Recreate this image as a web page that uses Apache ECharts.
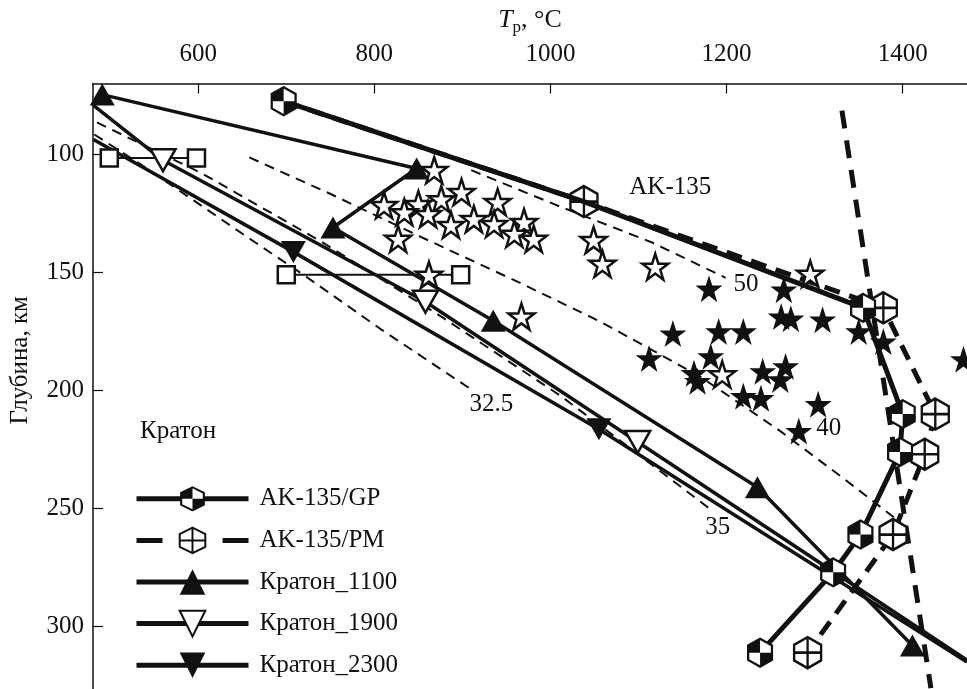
<!DOCTYPE html>
<html><head><meta charset="utf-8">
<script src="https://cdn.jsdelivr.net/npm/echarts/dist/echarts.min.js"></script>
<style>html,body{margin:0;padding:0;background:#fff}#c{width:967px;height:689px}</style>
</head><body><div id="c"></div>
<script>
// ---------- data (T in °C, depth in km) ----------
const xTicks = [600, 800, 1000, 1200, 1400];
const yTicks = [100, 150, 200, 250, 300];

const akGP = [[697, 77.5], [1038, 120], [1355, 165], [1400, 210], [1397, 226], [1352, 261], [1321, 277], [1238, 311]];
const akPM = [[697, 77.5], [1038, 120], [1378, 165], [1437, 210], [1425, 227], [1389, 261], [1292, 311]];

const kraton1100 = [[491, 74.7], [848, 106], [753, 131], [935, 170.5], [1235, 241], [1411, 308]];
const kraton1900 = [[481, 79.3], [560, 102.5], [858, 162.4], [1099, 221.8], [1473, 314.2]];
const kraton2300 = [[481, 93.7], [708, 141.3], [1055, 216.4], [1473, 315]];

const squares100 = [[499, 101.5], [598, 101.5]];
const squares150 = [[700, 151], [898, 151]];

const adiabat = [[1331, 81.5], [1432, 326]];

const geo32_5 = [[482, 91.6], [536, 104.6], [596, 119.8], [652, 134.1], [721, 151.4], [808, 174.2], [913, 200.3]];
const geo35 = [[485, 86.5], [604, 108], [740, 137], [876, 168.7], [1012, 202.4], [1102, 227.7], [1184, 251]];
const geo40 = [[658, 101.3], [751, 116.9], [853, 135], [963, 154], [1057, 170.9], [1170, 194.1], [1261, 217.2], [1332, 237], [1391, 254]];
const geo50 = [[910, 106.7], [1012, 122.3], [1114, 137.1], [1199, 152.3]];

const openStars = [[868, 106.7], [899, 116], [876, 119], [850, 121.1], [811, 121.5], [834, 124.5], [861, 125.3], [887, 129.9],
  [940, 120.2], [913, 127.4], [936, 129.5], [970, 128.7], [959, 133.7], [981, 135.8], [827, 135.8], [1049, 136.3],
  [1059, 146.4], [862, 151], [967, 168.7], [1119, 147.6], [1295, 150.6], [1195, 193.2]];
const filledStars = [[1180, 156.9], [1265, 157.3], [1262, 168.7], [1273, 169.6], [1309, 170], [1350, 175], [1378, 179.3],
  [1139, 175.9], [1191, 175], [1219, 175], [1112, 186.4], [1182, 185.6], [1163, 192.7], [1167, 196.1], [1241, 191.9],
  [1267, 189.8], [1261, 195.3], [1219, 202.4], [1239, 203.3], [1304, 205.8], [1282, 217.2], [1469, 186.8]];

const textLabels = [[1136, 114, 'AK-135'], [1222, 155, '50'], [1316, 216, '40'], [1190, 258, '35'], [933, 206, '32.5']];

const legendNames = ['AK-135/GP', 'AK-135/PM', 'Кратон_1100', 'Кратон_1900', 'Кратон_2300'];

// ---------- symbols & styles ----------
const FONT = '"Liberation Serif", "Times New Roman", serif';
const INK = '#111';
const STAR = 'path://M50,0 L61.8,35.4 L99,35.4 L69,57.3 L80.3,92.7 L50,70.8 L19.7,92.7 L31,57.3 L1,35.4 L38.2,35.4 Z';
const TRI_DOWN = 'path://M0,0 L100,0 L50,87 Z';
const HEX_PM = 'path://M50,0 L93.3,25 L93.3,75 L50,100 L6.7,75 L6.7,25 Z M50,0 L50,100 M6.7,50 L93.3,50';
const gpSvg = '<svg xmlns="http://www.w3.org/2000/svg" width="52" height="60" viewBox="0 0 26 30">' +
  '<polygon points="13,1.5 24.5,8 24.5,22 13,28.5 1.5,22 1.5,8" fill="#fff"/>' +
  '<polygon points="13,1.5 13,15 1.5,15 1.5,8" fill="#111"/>' +
  '<polygon points="13,15 24.5,15 24.5,22 13,28.5" fill="#111"/>' +
  '<polygon points="13,1.5 24.5,8 24.5,22 13,28.5 1.5,22 1.5,8" fill="none" stroke="#111" stroke-width="2.2"/></svg>';
const GP = 'image://data:image/svg+xml;charset=utf-8,' + encodeURIComponent(gpSvg);

function noSym(arr, idx) { return arr.map((p, i) => idx.includes(i) ? { value: p, symbol: 'none' } : p); }

const chart = echarts.init(document.getElementById('c'), null, { renderer: 'canvas' });
const dashedThin = { color: INK, width: 2, type: [10, 7] };

chart.setOption({
  animation: false,
  backgroundColor: '#fff',
  title: { text: 'Кратон', left: 140, top: 419, padding: 0, textStyle: { fontSize: 25, fontWeight: 'normal', fontFamily: FONT, color: INK } },
  legend: {
    data: legendNames.map(n => n === 'AK-135/PM' ? { name: n, lineStyle: { type: [26, 60, 26] } } : n),
    orient: 'vertical', left: 129, top: 481, itemWidth: 112, itemHeight: 32, itemGap: 15,
    selectedMode: false, lineStyle: { width: 5 },
    textStyle: { fontSize: 25, fontFamily: FONT, color: INK, padding: [0, 0, 0, 6] }
  },
  grid: { left: 91, right: 0, top: 81, bottom: 0 },
  xAxis: {
    type: 'value', position: 'top', min: 480.5, max: 1473,
    name: '{i|T}{s|p}{n|, °C}', nameLocation: 'middle', nameGap: 50,
    nameTextStyle: { rich: {
      i: { fontSize: 26, fontStyle: 'italic', fontFamily: FONT, color: INK },
      s: { fontSize: 17, fontFamily: FONT, color: INK, padding: [14, 0, 0, 0], lineHeight: 17 },
      n: { fontSize: 26, fontFamily: FONT, color: INK } } },
    axisLine: { show: true, onZero: false, lineStyle: { color: INK, width: 1.5 } },
    axisTick: { show: true, inside: true, length: 10, customValues: xTicks, lineStyle: { color: INK, width: 1.2 } },
    axisLabel: { customValues: xTicks, formatter: v => String(v), fontSize: 25, fontFamily: FONT, color: INK, margin: 17 },
    splitLine: { show: false }
  },
  yAxis: {
    type: 'value', inverse: true, min: 70, max: 326.4,
    name: 'Глубина, км', nameLocation: 'middle', nameRotate: 90, nameGap: 60,
    nameTextStyle: { fontSize: 25, fontFamily: FONT, color: INK, padding: [0, 0, 0, 52] },
    axisLine: { show: true, onZero: false, lineStyle: { color: INK, width: 1.5 } },
    axisTick: { show: true, inside: true, length: 10, customValues: yTicks, lineStyle: { color: INK, width: 1.2 } },
    axisLabel: { customValues: yTicks, formatter: v => String(v), fontSize: 25, fontFamily: FONT, color: INK, margin: 9 },
    splitLine: { show: false }
  },
  series: [
    { type: 'line', name: 'g32.5', data: geo32_5, symbol: 'none', lineStyle: dashedThin, z: 2 },
    { type: 'line', name: 'g35', data: geo35, symbol: 'none', lineStyle: dashedThin, z: 2 },
    { type: 'line', name: 'g40', data: geo40, symbol: 'none', lineStyle: dashedThin, z: 2 },
    { type: 'line', name: 'g50', data: geo50, symbol: 'none', lineStyle: dashedThin, z: 2 },
    { type: 'line', name: 'adiabat', data: adiabat, symbol: 'none', lineStyle: { color: INK, width: 5, type: [18, 12] }, z: 2 },
    { type: 'line', name: 'sq100', data: squares100, symbol: 'rect', symbolSize: 17,
      itemStyle: { color: '#fff', borderColor: INK, borderWidth: 2.5 }, lineStyle: { color: INK, width: 2 }, z: 3 },
    { type: 'line', name: 'sq150', data: squares150, symbol: 'rect', symbolSize: 17,
      itemStyle: { color: '#fff', borderColor: INK, borderWidth: 2.5 }, lineStyle: { color: INK, width: 2 }, z: 3 },
    { type: 'line', name: 'Кратон_2300', data: noSym(kraton2300, [0, 3]), symbol: TRI_DOWN, symbolSize: [25, 22],
      itemStyle: { color: INK }, lineStyle: { color: INK, width: 3.5 }, z: 3 },
    { type: 'line', name: 'Кратон_1900', data: noSym(kraton1900, [0, 4]), symbol: TRI_DOWN, symbolSize: [25, 22],
      itemStyle: { color: '#fff', borderColor: INK, borderWidth: 2.5 }, lineStyle: { color: INK, width: 3.5 }, z: 3 },
    { type: 'line', name: 'Кратон_1100', data: kraton1100, symbol: 'triangle', symbolSize: [25, 22],
      itemStyle: { color: INK }, lineStyle: { color: INK, width: 3.5 }, z: 3 },
    { type: 'line', name: 'AK-135/PM', data: noSym(akPM, [0]), symbol: HEX_PM, symbolSize: [27, 31],
      itemStyle: { color: '#fff', borderColor: INK, borderWidth: 2.5 }, lineStyle: { color: INK, width: 5, type: [16, 10] }, z: 4 },
    { type: 'line', name: 'AK-135/GP', data: noSym(akGP, [1]), symbol: GP, symbolSize: [27, 31],
      itemStyle: { color: INK }, lineStyle: { color: INK, width: 5 }, z: 5 },
    { type: 'scatter', name: 'open', data: openStars, symbol: STAR, symbolSize: 26,
      itemStyle: { color: '#fff', borderColor: INK, borderWidth: 2.5, opacity: 1 }, z: 6 },
    { type: 'scatter', name: 'filled', data: filledStars, symbol: STAR, symbolSize: 27,
      itemStyle: { color: INK, opacity: 1 }, z: 6 },
    { type: 'scatter', name: 'labels', data: textLabels, symbolSize: 0, silent: true, itemStyle: { opacity: 1 },
      label: { show: true, position: 'inside', formatter: p => p.value[2], fontSize: 25, fontFamily: FONT, color: INK, opacity: 1 }, z: 7 }
  ]
});
</script></body></html>
